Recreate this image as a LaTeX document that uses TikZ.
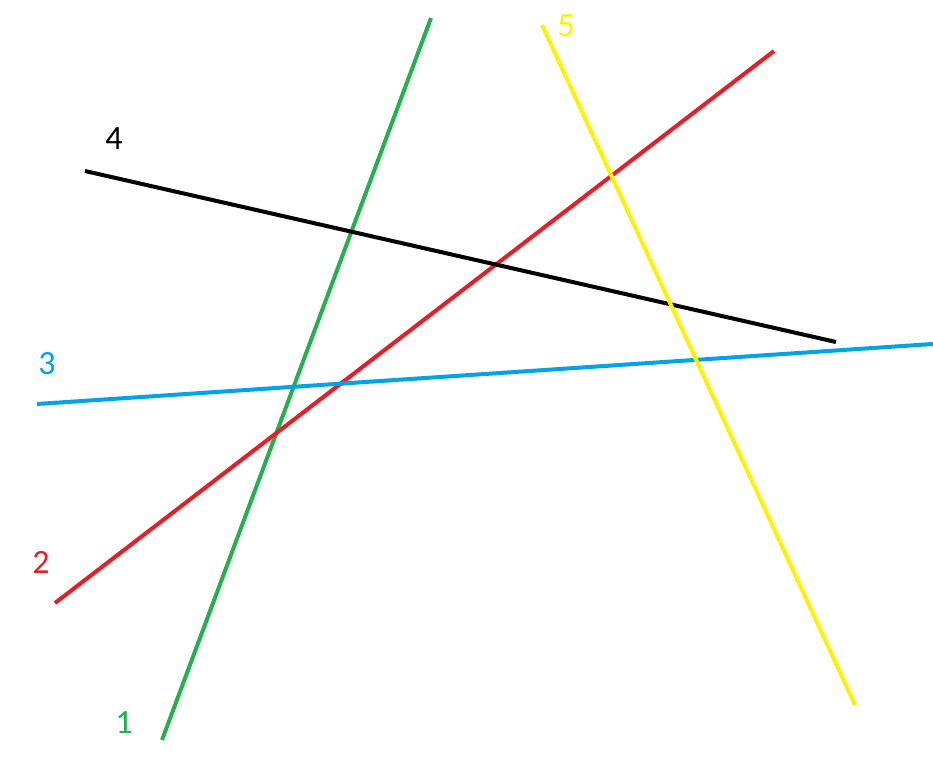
\documentclass[tikz,border=0pt]{standalone}
\usepackage{fontspec}
\setmainfont{Carlito}
\definecolor{pgreen}{RGB}{34,177,76}
\definecolor{pred}{RGB}{237,28,36}
\definecolor{pblue}{RGB}{0,162,232}
\definecolor{pyellow}{RGB}{255,242,0}
\tikzset{
  seg/.style={line width=4pt},
  lbl/.style={font=\fontsize{34}{40}\selectfont, inner sep=0pt}
}
\begin{document}
\begin{tikzpicture}[x=1pt,y=-1pt]
\useasboundingbox[fill=white] (0,0) rectangle (933,765);
% endpoints
\coordinate (g1) at (162,740); \coordinate (g2) at (431,18);
\coordinate (r1) at (55,603);  \coordinate (r2) at (774,51);
\coordinate (b1) at (37,404);  \coordinate (b2) at (940,343.5);
\coordinate (k1) at (85,171);  \coordinate (k2) at (836,342);
\coordinate (y1) at (542,25);  \coordinate (y2) at (855,705);
\draw[seg,pgreen] (g1) -- (g2);
\draw[seg,pred] (r1) -- (r2);
\draw[seg,pblue] (b1) -- (b2);
\draw[seg,black] (k1) -- (k2);
\draw[seg,pyellow] (y1) -- (y2);
% labels
\node[lbl,text=pgreen] (n1) at (124,723) {1};
\node[lbl,text=pred] (n2) at (41,562) {2};
\node[lbl,text=pblue] (n3) at (47,364) {3};
\node[lbl,text=black] (n4) at (114,139) {4};
\node[lbl,text=pyellow] (n5) at (566,26) {5};
\end{tikzpicture}
\end{document}
